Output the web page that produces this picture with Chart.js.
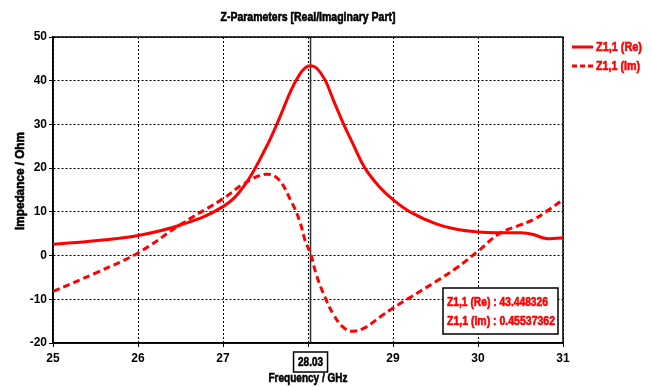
<!DOCTYPE html>
<html>
<head>
<meta charset="utf-8">
<script src="https://cdn.jsdelivr.net/npm/chart.js@4.4.0/dist/chart.umd.min.js"></script>
<style>
  html, body { margin: 0; padding: 0; background: #fff; }
  canvas { display: block; }
</style>
</head>
<body>
<canvas id="myChart" width="652" height="387"></canvas>
<script>
// frequency points (GHz)
const freq = [25, 25.5, 26, 26.5, 27, 27.25, 27.5, 27.65, 27.8, 27.9, 27.97, 28.03, 28.1, 28.2, 28.3, 28.42, 28.53, 28.67, 28.85, 29, 29.2, 29.5, 29.75, 30, 30.25, 30.5, 30.65, 30.8, 31];
// Z1,1 real part (Ohm)
const reData = [2.6, 3.4, 4.6, 7.0, 11.2, 16.0, 24.5, 30.8, 37.8, 41.4, 43.0, 43.45, 42.9, 40.2, 35.5, 30.0, 25.5, 20.0, 15.5, 12.8, 10.0, 7.3, 6.0, 5.4, 5.2, 5.2, 4.8, 3.9, 4.1];
// Z1,1 imaginary part (Ohm)
const imData = [-8.2, -4.0, 0.6, 7.1, 13.0, 16.5, 18.6, 17.5, 12.5, 8.0, 3.2, 0.46, -4.5, -9.5, -13.5, -16.5, -17.3, -16.5, -14.0, -12.0, -9.6, -6.0, -2.8, 1.0, 5.0, 7.0, 8.2, 10.0, 12.8];

const seriesNames = ['Z1,1 (Re)', 'Z1,1 (Im)'];
const markerFreq = 28.03;
const markerValues = ['43.448326', '0.45537362'];

const FONT = "'Liberation Sans', Arial, sans-serif";
const RED = '#ff0000';

// draw text squeezed horizontally to a given width (condensed look)
function narrowText(ctx, text, x, y, width, align) {
  const w = ctx.measureText(text).width;
  const k = width / w;
  ctx.save();
  ctx.translate(x, y);
  ctx.scale(k, 1);
  ctx.textAlign = align || 'left';
  ctx.strokeStyle = ctx.fillStyle;
  ctx.lineWidth = 0.6;
  ctx.fillText(text, 0, 0);
  ctx.strokeText(text, 0, 0);
  ctx.restore();
}

const overlay = {
  id: 'overlay',
  beforeDatasetsDraw(chart) {
    const { ctx, chartArea: a, scales } = chart;
    ctx.save();
    // marker line
    const mx = scales.x.getPixelForValue(markerFreq);
    ctx.strokeStyle = '#303030';
    ctx.lineWidth = 1.5;
    ctx.beginPath();
    ctx.moveTo(mx, a.top);
    ctx.lineTo(mx, a.bottom);
    ctx.stroke();
    // frame
    ctx.strokeStyle = '#000';
    ctx.lineWidth = 1.5;
    ctx.strokeRect(a.left, a.top, a.right - a.left, a.bottom - a.top);
    ctx.restore();
  },
  afterDraw(chart) {
    const { ctx, chartArea: a, scales } = chart;
    ctx.save();
    ctx.font = 'bold 13px ' + FONT;
    ctx.textBaseline = 'middle';
    ctx.fillStyle = '#000';

    // title
    narrowText(ctx, 'Z-Parameters [Real/Imaginary Part]', (a.left + a.right) / 2, 17, 175, 'center');

    // axis titles
    narrowText(ctx, 'Frequency / GHz', (a.left + a.right) / 2, 378, 79, 'center');
    ctx.save();
    ctx.translate(20, 181);
    ctx.rotate(-Math.PI / 2);
    narrowText(ctx, 'Impedance / Ohm', 0, 0, 98, 'center');
    ctx.restore();

    // legend
    const lx = a.right + 9;
    [47, 66].forEach((y, i) => {
      ctx.strokeStyle = RED;
      ctx.lineWidth = 3;
      ctx.setLineDash(i === 0 ? [] : [5, 3]);
      ctx.beginPath();
      ctx.moveTo(lx, y);
      ctx.lineTo(lx + 21, y);
      ctx.stroke();
      ctx.setLineDash([]);
      ctx.fillStyle = RED;
      narrowText(ctx, seriesNames[i], lx + 24, y, i === 0 ? 46 : 44);
    });

    // marker label on x axis
    const mx = scales.x.getPixelForValue(markerFreq);
    ctx.fillStyle = '#fff';
    ctx.fillRect(mx - 17, 352, 34, 20);
    ctx.strokeStyle = '#000';
    ctx.lineWidth = 1.5;
    ctx.strokeRect(mx - 17, 352, 34, 20);
    ctx.fillStyle = '#000';
    narrowText(ctx, String(markerFreq), mx, 362, 25, 'center');

    // value box
    ctx.fillStyle = '#fff';
    ctx.fillRect(443, 288, 115, 46);
    ctx.strokeStyle = '#000';
    ctx.lineWidth = 1.5;
    ctx.strokeRect(443, 288, 115, 46);
    ctx.fillStyle = RED;
    narrowText(ctx, seriesNames[0] + ' : ' + markerValues[0], 447, 302, 101);
    narrowText(ctx, seriesNames[1] + ' : ' + markerValues[1], 447, 321, 108);
    ctx.restore();
  }
};

const canvas = document.getElementById('myChart');
const ctx = canvas.getContext('2d');
const myChart = new Chart(ctx, {
  type: 'line',
  data: {
    datasets: [{
      label: seriesNames[0],
      data: freq.map((f, i) => ({ x: f, y: reData[i] })),
      borderColor: RED,
      borderWidth: 3,
      pointRadius: 0,
      tension: 0.4,
      fill: false
    }, {
      label: seriesNames[1],
      data: freq.map((f, i) => ({ x: f, y: imData[i] })),
      borderColor: RED,
      borderWidth: 3,
      borderDash: [7, 4],
      pointRadius: 0,
      tension: 0.4,
      fill: false
    }]
  },
  options: {
    responsive: false,
    animation: false,
    layout: { padding: { top: 37, right: 89, left: 0, bottom: 0 } },
    plugins: {
      legend: { display: false },
      title: { display: false },
      tooltip: { enabled: false }
    },
    scales: {
      x: {
        type: 'linear',
        min: 25,
        max: 31,
        ticks: {
          stepSize: 1,
          color: '#000',
          padding: 4,
          font: { family: FONT, size: 12, weight: 'bold' },
          callback: (v) => v === 28 ? '' : v
        },
        grid: { color: '#000', lineWidth: 1, tickLength: 4, tickColor: '#000' },
        border: { color: '#000', width: 1.5, dash: [2, 2] },
        afterFit: (s) => { s.height = 44; }
      },
      y: {
        min: -20,
        max: 50,
        ticks: {
          stepSize: 10,
          color: '#000',
          padding: 2,
          font: { family: FONT, size: 12, weight: 'bold' }
        },
        grid: { color: '#000', lineWidth: 1, tickLength: 4, tickColor: '#000' },
        border: { color: '#000', width: 1.5, dash: [2, 2] },
        afterFit: (s) => { s.width = 53; }
      }
    }
  },
  plugins: [overlay]
});
</script>
</body>
</html>
